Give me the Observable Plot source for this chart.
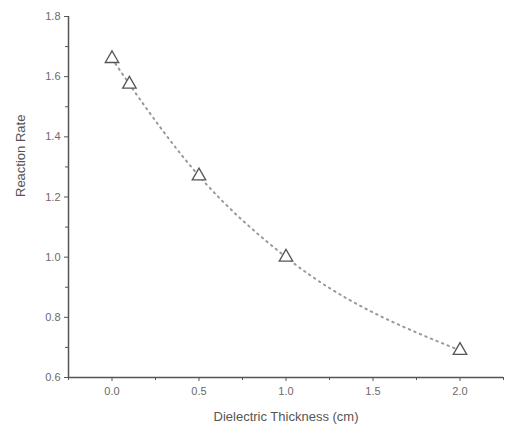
<!DOCTYPE html>
<html><head><meta charset="utf-8">
<script src="https://cdn.jsdelivr.net/npm/d3@7"></script>
<script src="https://cdn.jsdelivr.net/npm/@observablehq/plot@0.6"></script>
<style>body{margin:0;background:#fff}</style>
</head><body><div id="chart"></div>
<script>
const thickness = [0.0, 0.1, 0.5, 1.0, 2.0];
const rate = [1.66, 1.575, 1.27, 1.0, 0.69];
const xTicks = [0.0, 0.5, 1.0, 1.5, 2.0];
const xMinor = [-0.25, 0.25, 0.75, 1.25, 1.75, 2.25];
const yTicks = [0.6, 0.8, 1.0, 1.2, 1.4, 1.6, 1.8];
const yMinor = [0.7, 0.9, 1.1, 1.3, 1.5, 1.7];
const data = thickness.map((t, i) => ({t, r: rate[i]}));

const axisColor = "#555";
const chart = Plot.plot({
  width: 506, height: 434,
  marginLeft: 68, marginTop: 16, marginBottom: 57, marginRight: 3,
  style: {fontFamily: "Liberation Sans, Arial, sans-serif", fontSize: "11px", color: "#666"},
  x: {domain: [-0.25, 2.25]},
  y: {domain: [0.6, 1.8]},
  marks: [
    Plot.line(data, {x: "t", y: "r", curve: "monotone-x", stroke: "#999", strokeWidth: 2, strokeDasharray: "1.5,4.5", strokeLinecap: "round"}),
    Plot.dot(data, {x: "t", y: "r", symbol: "triangle", r: 5, stroke: "#555", strokeWidth: 1.3, fill: "white"}),
    Plot.ruleY([0.6], {stroke: axisColor, strokeWidth: 1.5}),
    Plot.ruleX([-0.25], {stroke: axisColor, strokeWidth: 1.5}),
    Plot.axisX(xTicks, {tickSize: 4, tickPadding: 6, tickFormat: d3.format(".1f"), stroke: axisColor, fill: "#6a6a6a", fontSize: 11, label: null}),
    Plot.axisX(xMinor, {tickSize: 3, tickFormat: () => "", stroke: axisColor, label: null}),
    Plot.axisY(yTicks, {tickSize: 4, tickPadding: 4, tickFormat: d3.format(".1f"), stroke: axisColor, fill: "#6a6a6a", fontSize: 11, label: null}),
    Plot.axisY(yMinor, {tickSize: 3, tickFormat: () => "", stroke: axisColor, label: null}),
    Plot.text(["Dielectric Thickness (cm)"], {frameAnchor: "bottom", dy: 43, fontSize: 13, fill: "#555"}),
    Plot.text(["Reaction Rate"], {frameAnchor: "left", dx: -48, rotate: -90, fontSize: 13, fill: "#555"})
  ]
});
document.getElementById("chart").appendChild(chart);
</script></body></html>
